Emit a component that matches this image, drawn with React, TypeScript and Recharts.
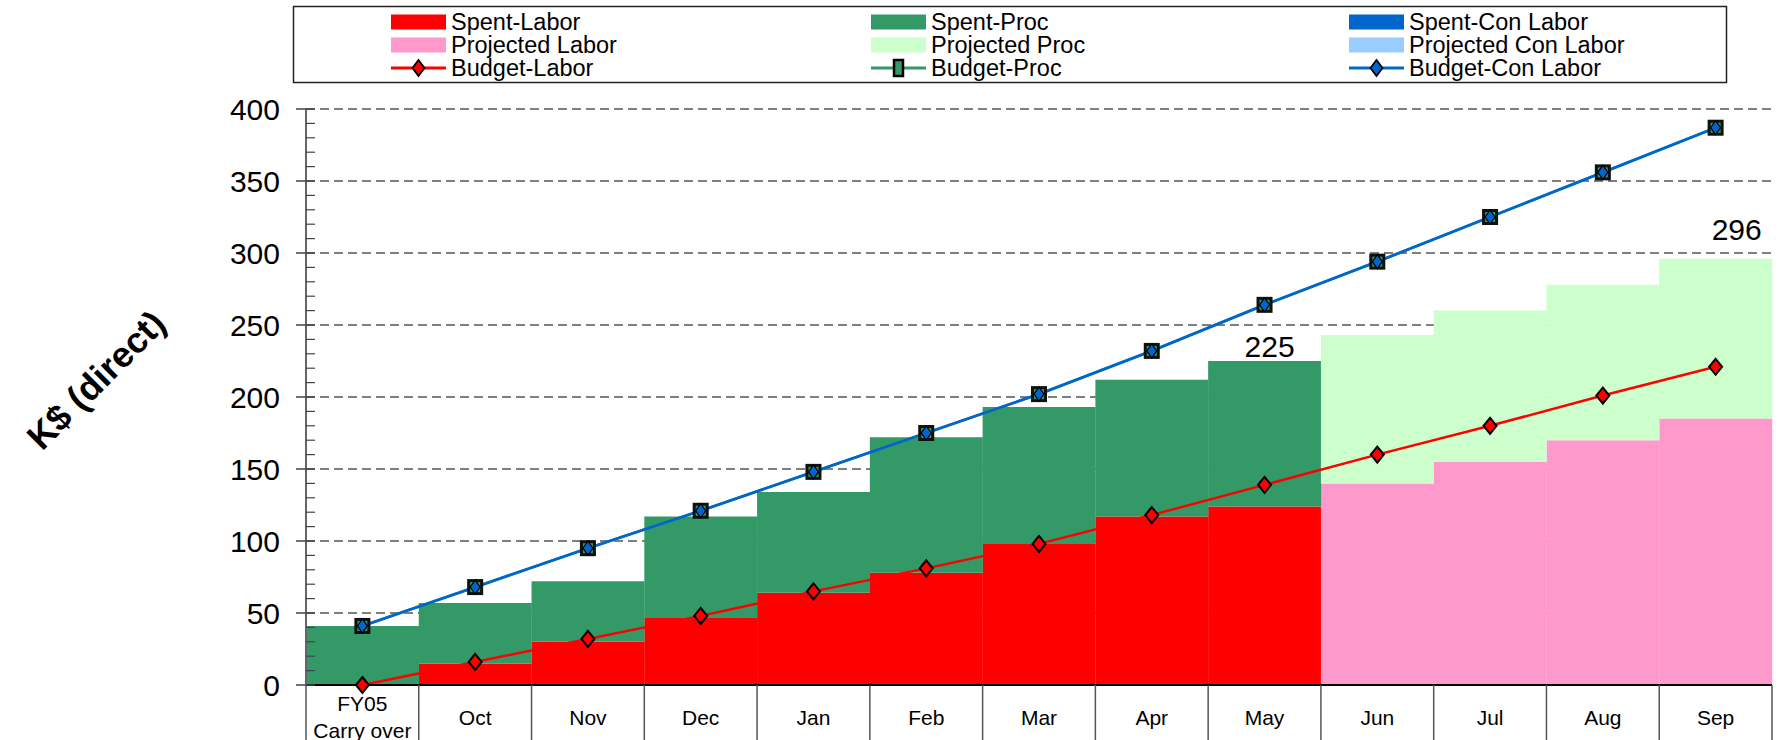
import React from 'react';
import { ComposedChart, Bar, Line, XAxis, YAxis, CartesianGrid, LabelList } from 'recharts';

const categories = ['FY05\nCarry over', 'Oct', 'Nov', 'Dec', 'Jan', 'Feb', 'Mar', 'Apr', 'May', 'Jun', 'Jul', 'Aug', 'Sep'];
const spentLabor = [0, 15, 30, 47, 64, 78, 98, 117, 124, 0, 0, 0, 0];
const spentProc = [41, 42, 42, 70, 70, 94, 95, 95, 101, 0, 0, 0, 0];
const spentConLabor = [0, 0, 0, 0, 0, 0, 0, 0, 0, 0, 0, 0, 0];
const projectedLabor = [0, 0, 0, 0, 0, 0, 0, 0, 0, 140, 155, 170, 185];
const projectedProc = [0, 0, 0, 0, 0, 0, 0, 0, 0, 103, 105, 108, 111];
const projectedConLabor = [0, 0, 0, 0, 0, 0, 0, 0, 0, 0, 0, 0, 0];
const budgetLabor = [0, 16, 32, 48, 65, 81, 98, 118, 139, 160, 180, 201, 221];
const budgetProc = [41, 68, 95, 121, 148, 175, 202, 232, 264, 294, 325, 356, 387];
const budgetConLabor = [41, 68, 95, 121, 148, 175, 202, 232, 264, 294, 325, 356, 387];
const totalLabels = ['', '', '', '', '', '', '', '', '225', '', '', '', '296'];

const yTicks = [0, 10, 20, 30, 40, 50, 60, 70, 80, 90, 100, 110, 120, 130, 140, 150, 160, 170, 180, 190, 200,
  210, 220, 230, 240, 250, 260, 270, 280, 290, 300, 310, 320, 330, 340, 350, 360, 370, 380, 390, 400];
const gridValues = [50, 100, 150, 200, 250, 300, 350, 400];

const data = categories.map((c, i) => ({
  name: c,
  spentLabor: spentLabor[i],
  spentProc: spentProc[i],
  spentConLabor: spentConLabor[i],
  projectedLabor: projectedLabor[i],
  projectedProc: projectedProc[i],
  projectedConLabor: projectedConLabor[i],
  budgetLabor: budgetLabor[i],
  budgetProc: budgetProc[i],
  budgetConLabor: budgetConLabor[i],
  label: totalLabels[i],
}));

const FONT = '"Liberation Sans", Arial, sans-serif';
const W = 1778;
const H = 740;
const PLOT_LEFT = 306;
const PLOT_RIGHT = 1772;
const BAND = (PLOT_RIGHT - PLOT_LEFT) / categories.length;

const RED = '#FF0000';
const GREEN = '#339966';
const BLUE = '#0066CC';

// the two totals are free text boxes in the original, nudge them a bit
const labelNudge: Record<string, [number, number]> = { '225': [5, -4], '296': [21, -19] };

const YTick = (props: any) => {
  const { x, y, payload } = props;
  const v = payload.value;
  if (v % 50 === 0) {
    return (
      <g>
        <line x1={x - 10} x2={x + 9} y1={y} y2={y} stroke="#444" strokeWidth={1.5} />
        <text x={x - 26} y={y} textAnchor="end" dominantBaseline="central" fontSize={30} fontFamily={FONT} fill="#000">
          {v}
        </text>
      </g>
    );
  }
  return <line x1={x} x2={x + 9} y1={y} y2={y} stroke="#444" strokeWidth={1.2} />;
};

const XTick = (props: any) => {
  const { x, y, payload, index } = props;
  const lines = String(payload.value).split('\n');
  const left = x - BAND / 2;
  const right = x + BAND / 2;
  return (
    <g>
      <line x1={left} x2={left} y1={y} y2={y + 60} stroke="#555" strokeWidth={1.5} />
      {index === categories.length - 1 && (
        <line x1={right} x2={right} y1={y} y2={y + 60} stroke="#555" strokeWidth={1.5} />
      )}
      {lines.length === 1 ? (
        <text x={x} y={y + 32} textAnchor="middle" dominantBaseline="central" fontSize={21} fontFamily={FONT} fill="#000">
          {lines[0]}
        </text>
      ) : (
        lines.map((t, i) => (
          <text key={i} x={x} y={y + 18 + i * 27} textAnchor="middle" dominantBaseline="central" fontSize={21} fontFamily={FONT} fill="#000">
            {t}
          </text>
        ))
      )}
    </g>
  );
};

const renderTotal = (props: any) => {
  const { x, y, width, height, value } = props;
  if (!value || !height || height <= 0) return null;
  const [dx, dy] = labelNudge[String(value)] || [0, -4];
  return (
    <text x={x + width / 2 + dx} y={y + dy} textAnchor="middle" fontSize={30} fontFamily={FONT} fill="#000">
      {value}
    </text>
  );
};

const redDiamond = (props: any) => {
  const { cx, cy, index } = props;
  return (
    <path
      key={`rd-${index}`}
      d={`M${cx},${cy - 8} L${cx + 6.5},${cy} L${cx},${cy + 8} L${cx - 6.5},${cy} Z`}
      fill={RED}
      stroke="#000"
      strokeWidth={2}
    />
  );
};

const greenSquare = (props: any) => {
  const { cx, cy, index } = props;
  return (
    <rect key={`gs-${index}`} x={cx - 6.5} y={cy - 6.5} width={13} height={13} fill={GREEN} stroke="#111" strokeWidth={3} />
  );
};

const blueDiamond = (props: any) => {
  const { cx, cy, index } = props;
  return (
    <path
      key={`bd-${index}`}
      d={`M${cx},${cy - 7} L${cx + 5},${cy} L${cx},${cy + 7} L${cx - 5},${cy} Z`}
      fill={BLUE}
      stroke="#000"
      strokeWidth={1.2}
    />
  );
};

const legendItems = [
  { name: 'Spent-Labor', kind: 'box', color: RED },
  { name: 'Spent-Proc', kind: 'box', color: GREEN },
  { name: 'Spent-Con Labor', kind: 'box', color: BLUE },
  { name: 'Projected Labor', kind: 'box', color: '#FF99CC' },
  { name: 'Projected Proc', kind: 'box', color: '#CCFFCC' },
  { name: 'Projected Con Labor', kind: 'box', color: '#99CCFF' },
  { name: 'Budget-Labor', kind: 'diamond', color: RED },
  { name: 'Budget-Proc', kind: 'square', color: GREEN },
  { name: 'Budget-Con Labor', kind: 'diamond', color: BLUE },
];
const legendCols = [391, 871, 1349];
const legendRows = [22, 45, 68];

const LegendBox = () => (
  <svg width={W} height={90} style={{ position: 'absolute', left: 0, top: 0 }}>
    <rect x={293.5} y={6.5} width={1433} height={76} fill="#fff" stroke="#222" strokeWidth={1.5} />
    {legendItems.map((it, i) => {
      const sx = legendCols[i % 3];
      const cy = legendRows[Math.floor(i / 3)];
      return (
        <g key={it.name}>
          {it.kind === 'box' && <rect x={sx} y={cy - 7.5} width={55} height={15} fill={it.color} />}
          {it.kind !== 'box' && <line x1={sx} x2={sx + 55} y1={cy} y2={cy} stroke={it.color} strokeWidth={3} />}
          {it.kind === 'diamond' && (
            <path
              d={`M${sx + 27.5},${cy - 8} L${sx + 33.5},${cy} L${sx + 27.5},${cy + 8} L${sx + 21.5},${cy} Z`}
              fill={it.color}
              stroke="#000"
              strokeWidth={1.8}
            />
          )}
          {it.kind === 'square' && (
            <rect x={sx + 23} y={cy - 8} width={9} height={16} fill={it.color} stroke="#000" strokeWidth={2.5} />
          )}
          <text x={sx + 60} y={cy} dominantBaseline="central" fontSize={23.5} fontFamily={FONT} fill="#000">
            {it.name}
          </text>
        </g>
      );
    })}
  </svg>
);

const App: React.FC = () => {
  return (
    <div style={{ position: 'absolute', left: 0, top: 0, width: W, height: H, background: '#fff' }}>
      <ComposedChart
        width={W}
        height={H}
        data={data}
        margin={{ top: 109, right: W - PLOT_RIGHT, bottom: 0, left: PLOT_LEFT - 60 }}
        barCategoryGap={0}
        barGap={0}
      >
        <CartesianGrid vertical={false} horizontalValues={gridValues} stroke="#555" strokeWidth={1.3} strokeDasharray="9 5" />
        <XAxis
          dataKey="name"
          height={55}
          interval={0}
          tickSize={0}
          tickMargin={0}
          tickLine={false}
          axisLine={{ stroke: '#000', strokeWidth: 2 }}
          tick={<XTick />}
        />
        <YAxis
          width={60}
          domain={[0, 400]}
          ticks={yTicks}
          interval={0}
          tickSize={0}
          tickMargin={0}
          tickLine={false}
          axisLine={{ stroke: '#666', strokeWidth: 2 }}
          tick={<YTick />}
        />
        <Bar dataKey="spentLabor" stackId="a" fill={RED} isAnimationActive={false} />
        <Bar dataKey="projectedLabor" stackId="a" fill="#FF99CC" isAnimationActive={false} />
        <Bar dataKey="spentProc" stackId="a" fill={GREEN} isAnimationActive={false}>
          <LabelList dataKey="label" content={renderTotal} />
        </Bar>
        <Bar dataKey="projectedProc" stackId="a" fill="#CCFFCC" isAnimationActive={false}>
          <LabelList dataKey="label" content={renderTotal} />
        </Bar>
        <Bar dataKey="spentConLabor" stackId="a" fill={BLUE} isAnimationActive={false} />
        <Bar dataKey="projectedConLabor" stackId="a" fill="#99CCFF" isAnimationActive={false} />
        <Line type="linear" dataKey="budgetLabor" stroke={RED} strokeWidth={2.5} dot={redDiamond} activeDot={false} isAnimationActive={false} />
        <Line type="linear" dataKey="budgetProc" stroke={GREEN} strokeWidth={2.5} dot={greenSquare} activeDot={false} isAnimationActive={false} />
        <Line type="linear" dataKey="budgetConLabor" stroke={BLUE} strokeWidth={2.8} dot={blueDiamond} activeDot={false} isAnimationActive={false} />
      </ComposedChart>
      <LegendBox />
      <svg width={200} height={H} style={{ position: 'absolute', left: 0, top: 0 }}>
        <text
          x={96}
          y={380}
          transform="rotate(-45 96 380)"
          textAnchor="middle"
          dominantBaseline="central"
          fontSize={36}
          fontWeight="bold"
          fontFamily={FONT}
          fill="#000"
        >
          K$ (direct)
        </text>
      </svg>
    </div>
  );
};

export default App;
